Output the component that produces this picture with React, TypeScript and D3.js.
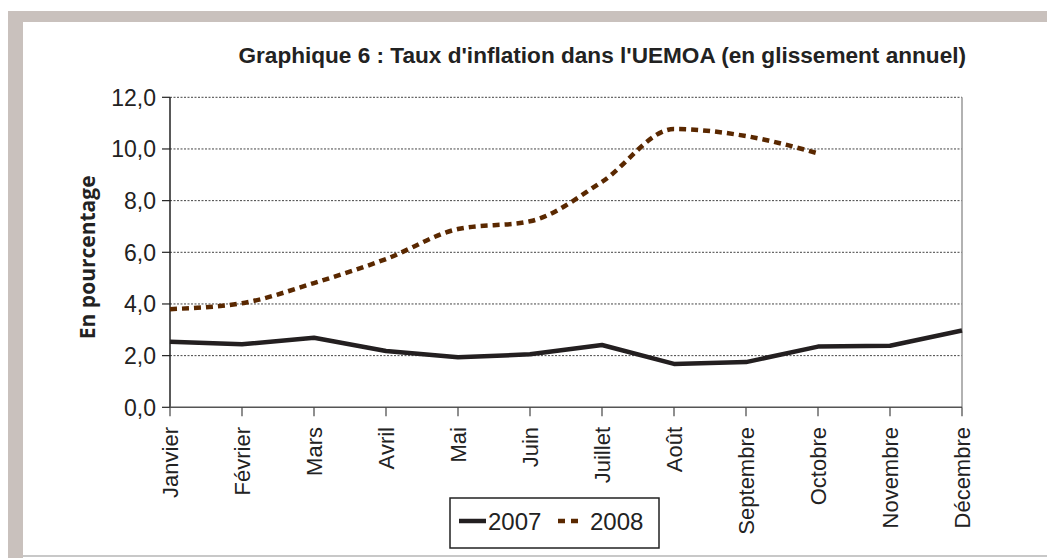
import React from "react";
import * as d3 from "d3";

const months = ["Janvier", "Février", "Mars", "Avril", "Mai", "Juin", "Juillet", "Août", "Septembre", "Octobre", "Novembre", "Décembre"];
const values2007 = [2.54, 2.44, 2.69, 2.18, 1.94, 2.05, 2.41, 1.68, 1.75, 2.35, 2.38, 2.97];
const values2008 = [3.8, 4.03, 4.81, 5.74, 6.9, 7.2, 8.73, 10.77, 10.5, 9.83];
const yTicks = [0, 2, 4, 6, 8, 10, 12];
const title = "Graphique 6 : Taux d'inflation dans l'UEMOA (en glissement annuel)";
const yLabel = "En pourcentage";

const W = 1047, H = 558;
const left = 170, right = 962, top = 97.3, bottom = 407.3;
const font = "'Liberation Sans', Arial, sans-serif";

export default function App() {
  const x = d3.scalePoint<string>().domain(months).range([left, right]);
  const y = d3.scaleLinear().domain([0, 12]).range([bottom, top]);
  const fmt = (v: number) => v.toFixed(1).replace(".", ",");

  const line2007 = d3.line<number>().x((_, i) => x(months[i])!).y(d => y(d)).curve(d3.curveLinear);
  const line2008 = d3.line<number>().x((_, i) => x(months[i])!).y(d => y(d)).curve(d3.curveMonotoneX);

  return (
    <svg width={W} height={H} style={{ position: "absolute", left: 0, top: 0, background: "#fff" }} fontFamily={font}>
      {/* frame */}
      <rect x={8} y={11} width={W - 8} height={11} fill="#c9c1bd" />
      <rect x={8} y={11} width={15} height={H - 11} fill="#c9c1bd" />
      <line x1={23} x2={W} y1={556} y2={556} stroke="#c8c8c8" strokeWidth={2} />

      <text x={966} y={63} textAnchor="end" fontSize={22.6} fontWeight="bold" fill="#222">{title}</text>

      {/* gridlines */}
      {yTicks.filter(t => t > 0).map(t => (
        <line key={t} x1={left} x2={right} y1={y(t)} y2={y(t)} stroke="#444" strokeWidth={1} strokeDasharray="2,1.5" />
      ))}
      <line x1={right} x2={right} y1={top} y2={bottom} stroke="#999" strokeWidth={1.5} />

      {/* y axis */}
      <line x1={left} x2={left} y1={top} y2={bottom} stroke="#222" strokeWidth={1.5} />
      {yTicks.map(t => (
        <g key={t}>
          <line x1={left - 8} x2={left} y1={y(t)} y2={y(t)} stroke="#222" strokeWidth={1.2} />
          <text x={156} y={y(t)} dy="0.36em" textAnchor="end" fontSize={23} fill="#222">{fmt(t)}</text>
        </g>
      ))}
      <text transform={`translate(95,${(top + bottom) / 2 + 5}) rotate(-90)`} textAnchor="middle" fontSize={21} fontWeight="bold" fill="#222" fontFamily="'Open Sans', sans-serif">{yLabel}</text>

      {/* x axis */}
      <line x1={left} x2={right} y1={bottom} y2={bottom} stroke="#555" strokeWidth={1.5} />
      {months.map(m => (
        <g key={m}>
          <line x1={x(m)!} x2={x(m)!} y1={bottom} y2={bottom + 9} stroke="#444" strokeWidth={1.2} />
          <text transform={`translate(${x(m)! + 8},427) rotate(-90)`} textAnchor="end" fontSize={22} fill="#222">{m}</text>
        </g>
      ))}

      {/* lines */}
      <path d={line2007(values2007)!} fill="none" stroke="#231f20" strokeWidth={4.5} strokeLinejoin="round" />
      <path d={line2008(values2008)!} fill="none" stroke="#5a2800" strokeWidth={4.5} strokeDasharray="7,5" />

      {/* legend */}
      <rect x={450} y={498} width={209} height={50} fill="#fff" stroke="#222" strokeWidth={1.5} />
      <line x1={459} x2={486} y1={521} y2={521} stroke="#231f20" strokeWidth={4.5} />
      <text x={488} y={529.5} fontSize={24} fill="#222">2007</text>
      <line x1={558} x2={579} y1={521} y2={521} stroke="#5a2800" strokeWidth={4.5} strokeDasharray="7,6" />
      <text x={590} y={529.5} fontSize={24} fill="#222">2008</text>
    </svg>
  );
}
